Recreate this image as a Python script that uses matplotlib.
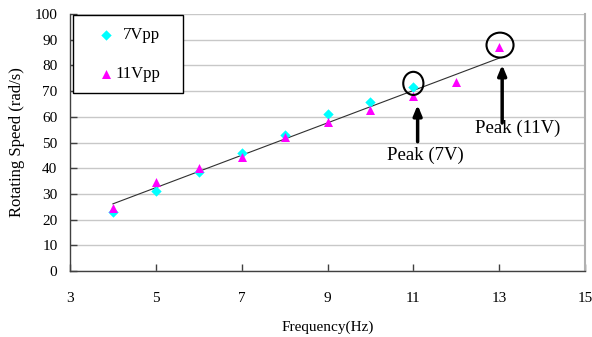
import numpy as np
import matplotlib
matplotlib.use("Agg")
import matplotlib.pyplot as plt
from matplotlib.patches import Ellipse, Rectangle

plt.rcParams["font.family"] = ["Liberation Serif", "DejaVu Serif"]

freq_7v = [4, 5, 6, 7, 8, 9, 10, 11]
speed_7v = [22.8, 31.1, 38.6, 46.0, 52.9, 61.0, 65.9, 71.7]
freq_11v = [4, 5, 6, 7, 8, 9, 10, 11, 12, 13]
speed_11v = [24.4, 34.5, 40.0, 44.5, 52.0, 57.9, 62.6, 68.2, 73.4, 87.3]

fig = plt.figure(figsize=(5.92, 3.37), dpi=100)
ax = fig.add_axes([70 / 592, 66 / 337, 515 / 592, 257 / 337])

ax.set_xlim(3, 15)
ax.set_ylim(0, 100)
ax.set_xticks(range(3, 16, 2))
ax.set_yticks(range(0, 101, 10))
ax.yaxis.grid(True, color="#c8c8c8", linewidth=1)
ax.set_axisbelow(True)
ax.spines["top"].set_visible(False)
ax.spines["right"].set_color("#b0b0b0")
ax.spines["right"].set_linewidth(1.5)
for side in ["left", "bottom"]:
    ax.spines[side].set_color("#404040")
    ax.spines[side].set_linewidth(1)
ax.tick_params(direction="in", length=5, width=1, color="#404040", labelsize=11)
ax.tick_params(axis="x", pad=15)
ax.tick_params(axis="y", pad=9, right=False)

# trendline through 11Vpp data
k, b = np.polyfit(freq_11v, speed_11v, 1)
xt = np.array([freq_11v[0], freq_11v[-1]])
ax.plot(xt, k * xt + b, color="#303030", linewidth=0.8, zorder=2)

ax.scatter(freq_7v, speed_7v, marker="D", s=28, color="#00ffff", zorder=3, linewidths=0)
ax.scatter(freq_11v, speed_11v, marker="^", s=42, color="#ff00ff", zorder=4, linewidths=0)

ax.set_xlabel("Frequency(Hz)", fontsize=11, labelpad=11)
ax.set_ylabel("Rotating Speed (rad/s)", fontsize=12, labelpad=7)

# legend box
ax.add_patch(Rectangle((0.006, 0.693), 0.214, 0.303, transform=ax.transAxes,
                       facecolor="white", edgecolor="black", linewidth=1, zorder=5, clip_on=False))
ax.scatter([0.07], [0.918], marker="D", s=28, color="#00ffff", transform=ax.transAxes,
           zorder=6, linewidths=0, clip_on=False)
ax.scatter([0.07], [0.767], marker="^", s=42, color="#ff00ff", transform=ax.transAxes,
           zorder=6, linewidths=0, clip_on=False)
ax.text(0.175, 0.918, "7Vpp", transform=ax.transAxes, ha="right", va="center", fontsize=12, zorder=6)
ax.text(0.175, 0.767, "11Vpp", transform=ax.transAxes, ha="right", va="center", fontsize=12, zorder=6)

# peak markers
ax.add_patch(Ellipse((11.0, 73.0), 0.47, 9.0, fill=False, edgecolor="black", linewidth=1.5, zorder=5))
ax.add_patch(Ellipse((13.02, 87.9), 0.63, 9.7, fill=False, edgecolor="black", linewidth=1.5, zorder=5))

arrow = dict(arrowstyle="-|>,head_width=0.25,head_length=0.6", color="black", lw=2.5, shrinkA=0, shrinkB=0)
ax.annotate("", xy=(11.1, 64.6), xytext=(11.1, 50.3), arrowprops=arrow, zorder=5)
ax.annotate("", xy=(13.07, 80.2), xytext=(13.07, 57.6), arrowprops=arrow, zorder=5)
ax.text(11.27, 45.1, "Peak (7V)", ha="center", va="center", fontsize=13.5)
ax.text(13.44, 55.6, "Peak (11V)", ha="center", va="center", fontsize=13.5)

fig.savefig("out.png", dpi=100)
